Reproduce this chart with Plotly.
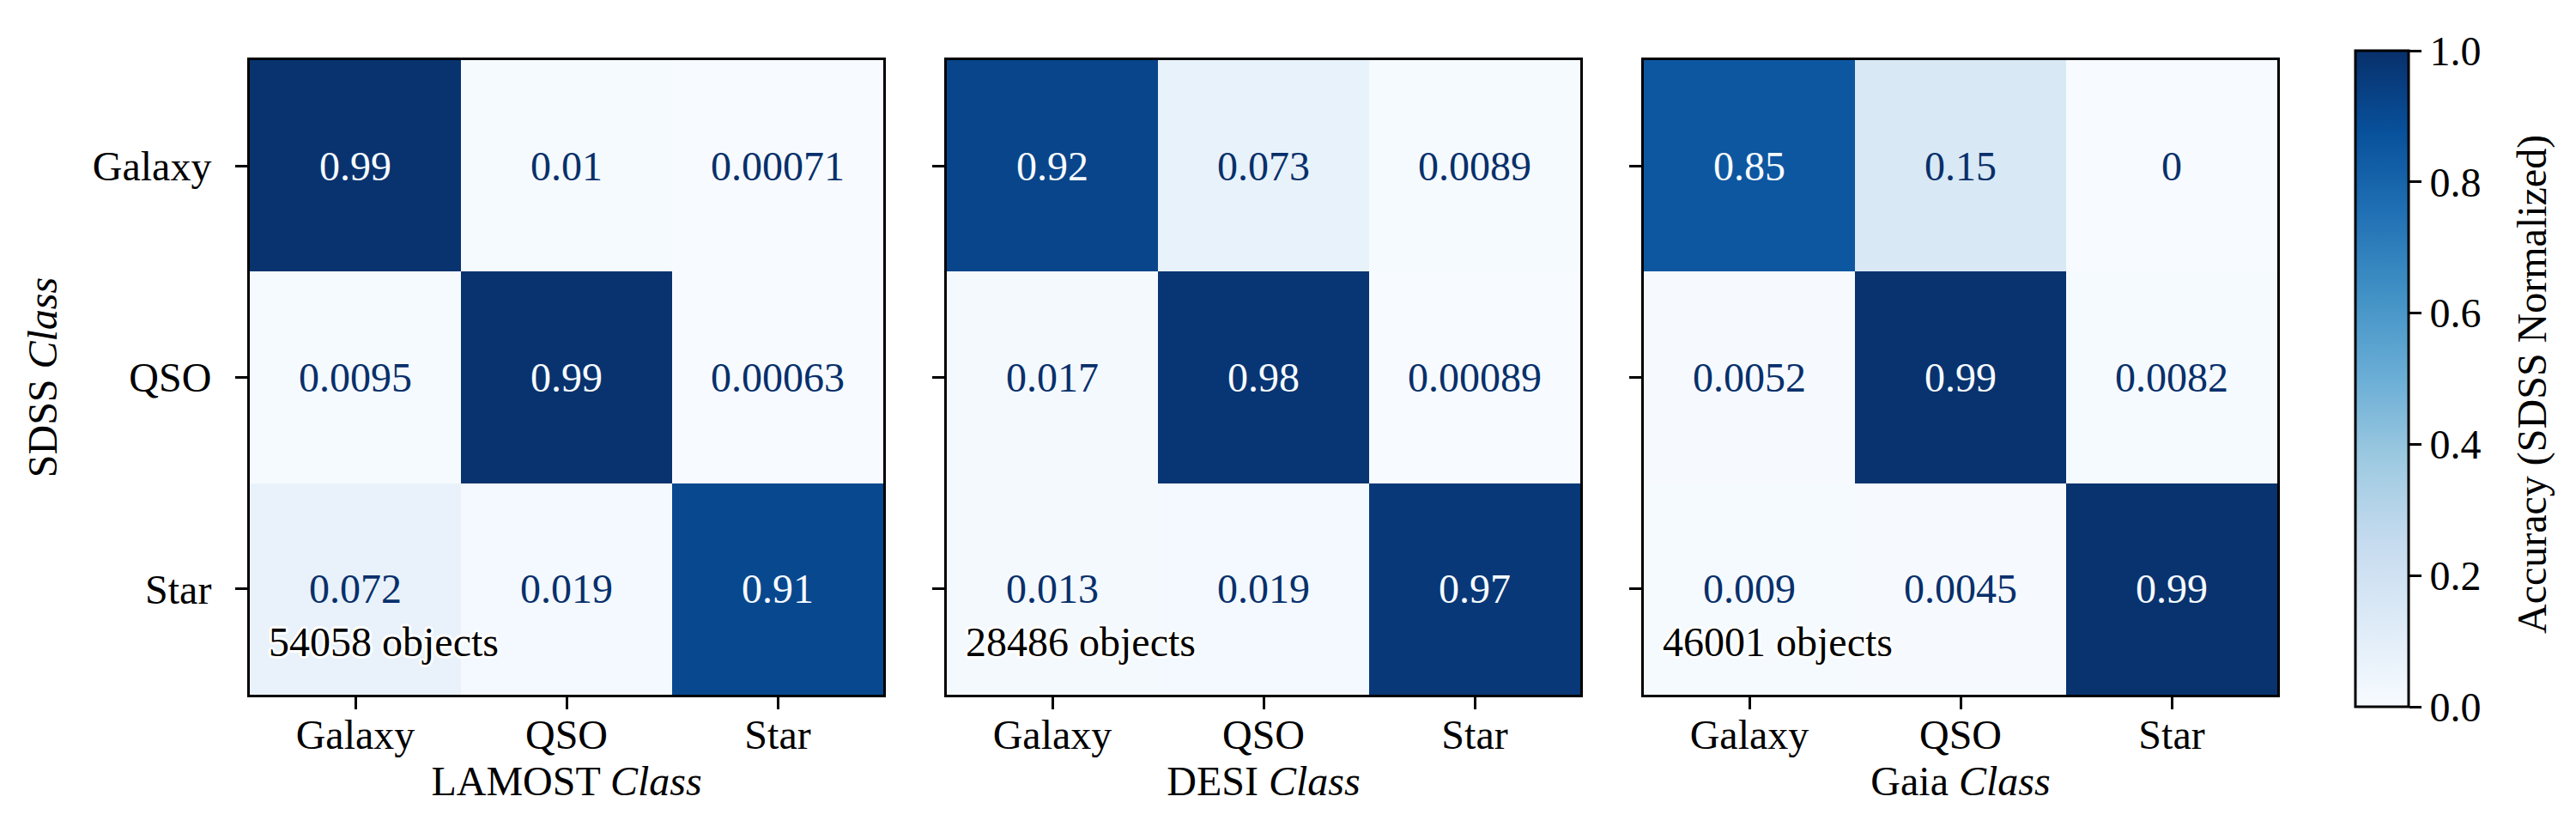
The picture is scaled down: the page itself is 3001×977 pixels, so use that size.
import plotly.graph_objects as go

classes = ["Galaxy", "QSO", "Star"]
surveys = ["LAMOST", "DESI", "Gaia"]
n_objects = [54058, 28486, 46001]

# rows = SDSS class, columns = survey class (SDSS normalized)
lamost = [[0.99, 0.01, 0.00071],
          [0.0095, 0.99, 0.00063],
          [0.072, 0.019, 0.91]]
desi = [[0.92, 0.073, 0.0089],
        [0.017, 0.98, 0.00089],
        [0.013, 0.019, 0.97]]
gaia = [[0.85, 0.15, 0],
        [0.0052, 0.99, 0.0082],
        [0.009, 0.0045, 0.99]]
matrices = [lamost, desi, gaia]

blues = ["#f7fbff", "#deebf7", "#c6dbef", "#9ecae1", "#6baed6",
         "#4292c6", "#2171b5", "#08519c", "#08306b"]
cscale = [[i / 8, c] for i, c in enumerate(blues)]

W, H = 3001, 977
FONT = "Liberation Serif"
FS = 48
x_dom = [(283, 1021), (1095, 1833), (1907, 2645)]
y_dom = [1 - 801 / H, 1 - 62 / H]

fig = go.Figure()
annotations = []
shadow = ("white 3px 0px 1px, white -3px 0px 1px, white 0px 3px 1px, white 0px -3px 1px, "
          "white 2px 2px 1px, white -2px -2px 1px, white 2px -2px 1px, white -2px 2px 1px")

for k, (m, name) in enumerate(zip(matrices, surveys)):
    sfx = "" if k == 0 else str(k + 1)
    fig.add_trace(go.Heatmap(
        z=m, x=classes, y=classes, xaxis="x" + sfx, yaxis="y" + sfx,
        colorscale=cscale, zmin=0, zmax=1, showscale=(k == 0), hoverinfo="skip",
        colorbar=dict(
            x=2736 / W, xanchor="left", xpad=0, ypad=0,
            thickness=62, thicknessmode="pixels",
            len=(815 - 51) / H, lenmode="fraction",
            y=1 - (51 + 815) / 2 / H, yanchor="middle",
            outlinewidth=3, outlinecolor="black",
            tickvals=[0, 0.2, 0.4, 0.6, 0.8, 1.0], ticktext=["0.0", "0.2", "0.4", "0.6", "0.8", "1.0"],
            ticks="outside", ticklen=14, tickwidth=3, tickcolor="black",
            tickfont=dict(family=FONT, size=FS, color="black"),
        ),
    ))
    for i, row_name in enumerate(classes):
        for j, col_name in enumerate(classes):
            v = m[i][j]
            annotations.append(dict(
                x=col_name, y=row_name, xref="x" + sfx, yref="y" + sfx,
                text="{:.2g}".format(v), showarrow=False,
                font=dict(family=FONT, size=FS, color="#f7fbff" if v >= 0.5 else "#08306b"),
            ))
    annotations.append(dict(
        x=0.027, y=0.045, xref="x" + sfx + " domain", yref="y" + sfx + " domain",
        xanchor="left", yanchor="bottom", showarrow=False,
        text=f"{n_objects[k]} objects",
        font=dict(family=FONT, size=FS, color="black", shadow=shadow),
    ))

    axis_common = dict(showline=True, mirror=True, linewidth=3, linecolor="black",
                       showgrid=False, zeroline=False, ticks="outside", ticklen=14,
                       tickwidth=3, tickcolor="black",
                       tickfont=dict(family=FONT, size=FS, color="black"),
                       automargin=False)
    fig.layout["xaxis" + sfx] = dict(
        axis_common, domain=[x_dom[k][0] / W, x_dom[k][1] / W], anchor="y" + sfx,
        type="category", categoryorder="array", categoryarray=classes,
        ticklabelstandoff=-12,
        title=dict(text=f"{name} <i>Class</i>", standoff=12,
                   font=dict(family=FONT, size=FS, color="black")),
    )
    fig.layout["yaxis" + sfx] = dict(
        axis_common, domain=y_dom, anchor="x" + sfx,
        type="category", categoryorder="array", categoryarray=classes,
        autorange="reversed", showticklabels=(k == 0), ticklabelstandoff=18,
        title=dict(text="SDSS <i>Class</i>" if k == 0 else "", standoff=26,
                   font=dict(family=FONT, size=FS, color="black")),
    )

# colour bar label
annotations.append(dict(
    x=2942 / W, y=1 - 440 / H, xref="paper", yref="paper",
    xanchor="center", yanchor="middle", textangle=-90, showarrow=False,
    text="Accuracy (SDSS Normalized)",
    font=dict(family=FONT, size=FS, color="black"),
))

fig.update_layout(
    width=W, height=H, margin=dict(l=0, r=0, t=0, b=0),
    paper_bgcolor="white", plot_bgcolor="white",
    annotations=annotations, showlegend=False,
)

fig.write_html("out.html")
